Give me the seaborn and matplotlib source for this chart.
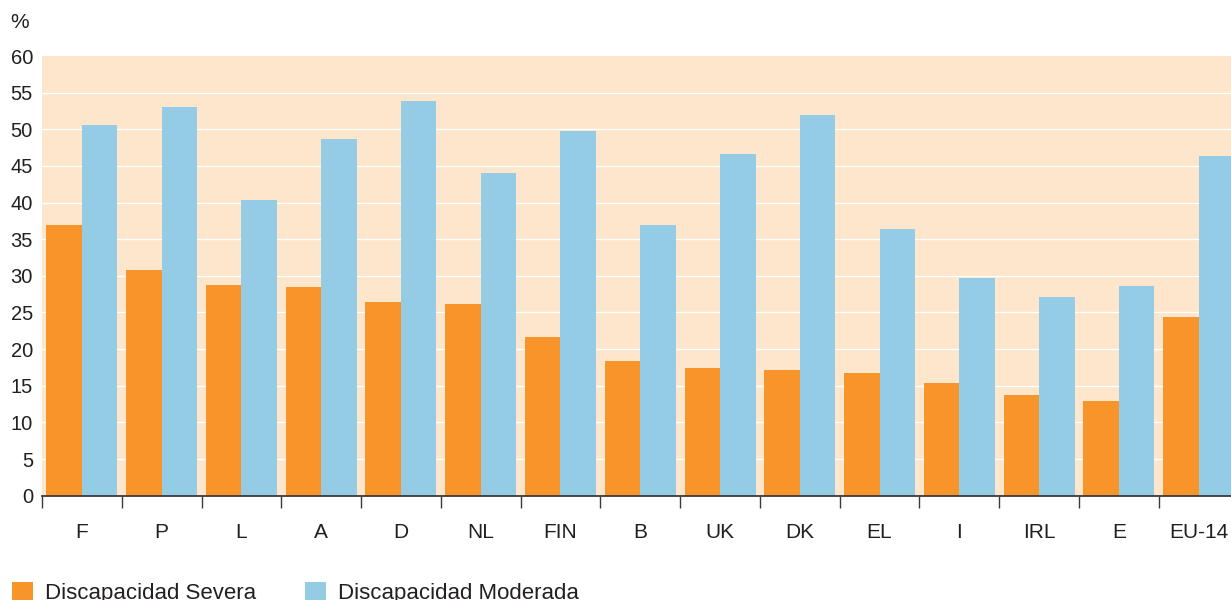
import matplotlib
matplotlib.use("Agg")
import matplotlib.pyplot as plt
from matplotlib.patches import Patch
from matplotlib.ticker import FixedLocator, NullFormatter
import seaborn as sns
import pandas as pd

categories = ["F", "P", "L", "A", "D", "NL", "FIN", "B", "UK", "DK", "EL", "I", "IRL", "E", "EU-14"]
severa = [37.0, 30.8, 28.8, 28.5, 26.4, 26.1, 21.6, 18.4, 17.4, 17.1, 16.7, 15.4, 13.7, 12.9, 24.4]
moderada = [50.6, 53.0, 40.4, 48.7, 53.8, 44.0, 49.8, 36.9, 46.6, 52.0, 36.4, 29.7, 27.1, 28.6, 46.3]
series_names = ["Discapacidad Severa", "Discapacidad Moderada"]
y_ticks = list(range(0, 61, 5))

ORANGE = "#f7942a"
BLUE = "#94cce6"
BG = "#fde6cc"
TXT = "#231f20"

df = pd.DataFrame({
    "pais": categories * 2,
    "valor": severa + moderada,
    "serie": [series_names[0]] * len(categories) + [series_names[1]] * len(categories),
})

sns.set_theme(style="white")
plt.rcParams["font.family"] = ["Liberation Sans", "DejaVu Sans"]

W, H = 1231, 600
fig = plt.figure(figsize=(W / 100, H / 100), dpi=100)
ax_left, ax_right, ax_top, ax_bot = 42, 1238.5, 56, 495.7
ax = fig.add_axes([ax_left / W, 1 - ax_bot / H, (ax_right - ax_left) / W, (ax_bot - ax_top) / H])
ax.set_facecolor(BG)

sns.barplot(data=df, x="pais", y="valor", hue="serie", hue_order=series_names,
            palette=[ORANGE, BLUE], width=0.89, saturation=1, legend=False,
            linewidth=0, ax=ax, zorder=3)

ax.set_xlim(-0.5, len(categories) - 0.5)
ax.set_ylim(0, 60)
ax.set_yticks(y_ticks)
ax.set_yticklabels([str(v) for v in y_ticks])
ax.set_xlabel("")
ax.set_ylabel("")

ax.set_axisbelow(True)
ax.yaxis.grid(True, color="white", linewidth=1.0)
ax.xaxis.grid(False)
for gl, v in zip(ax.get_ygridlines(), y_ticks):
    if v in (0, 60):
        gl.set_visible(False)

for s in ["top", "right", "left"]:
    ax.spines[s].set_visible(False)
ax.spines["bottom"].set_color("#3a3a3a")
ax.spines["bottom"].set_linewidth(1.3)
ax.spines["bottom"].set_zorder(5)

ax.tick_params(axis="y", length=0, pad=6.5, labelsize=14.5, labelcolor=TXT)
ax.tick_params(axis="x", which="major", length=0, pad=19.5, labelsize=15, labelcolor=TXT)
ax.xaxis.set_minor_locator(FixedLocator([i - 0.5 for i in range(len(categories) + 1)]))
ax.xaxis.set_minor_formatter(NullFormatter())
ax.tick_params(axis="x", which="minor", length=8.5, width=1.0, color="#3a3a3a", direction="out", bottom=True)

fig.text(10 / W, 1 - 23 / H, "%", fontsize=15, color=TXT, va="center", ha="left")

handles = [Patch(facecolor=ORANGE, edgecolor="none"), Patch(facecolor=BLUE, edgecolor="none")]
fig.legend(handles, series_names, loc="upper left", bbox_to_anchor=(11.5 / W, 1 - 582 / H),
           ncol=2, frameon=False, fontsize=16, handlelength=0.95, handleheight=0.95,
           handletextpad=0.54, columnspacing=2.2, borderpad=0, borderaxespad=0,
           labelcolor=TXT)

fig.savefig("out.png", dpi=100)
